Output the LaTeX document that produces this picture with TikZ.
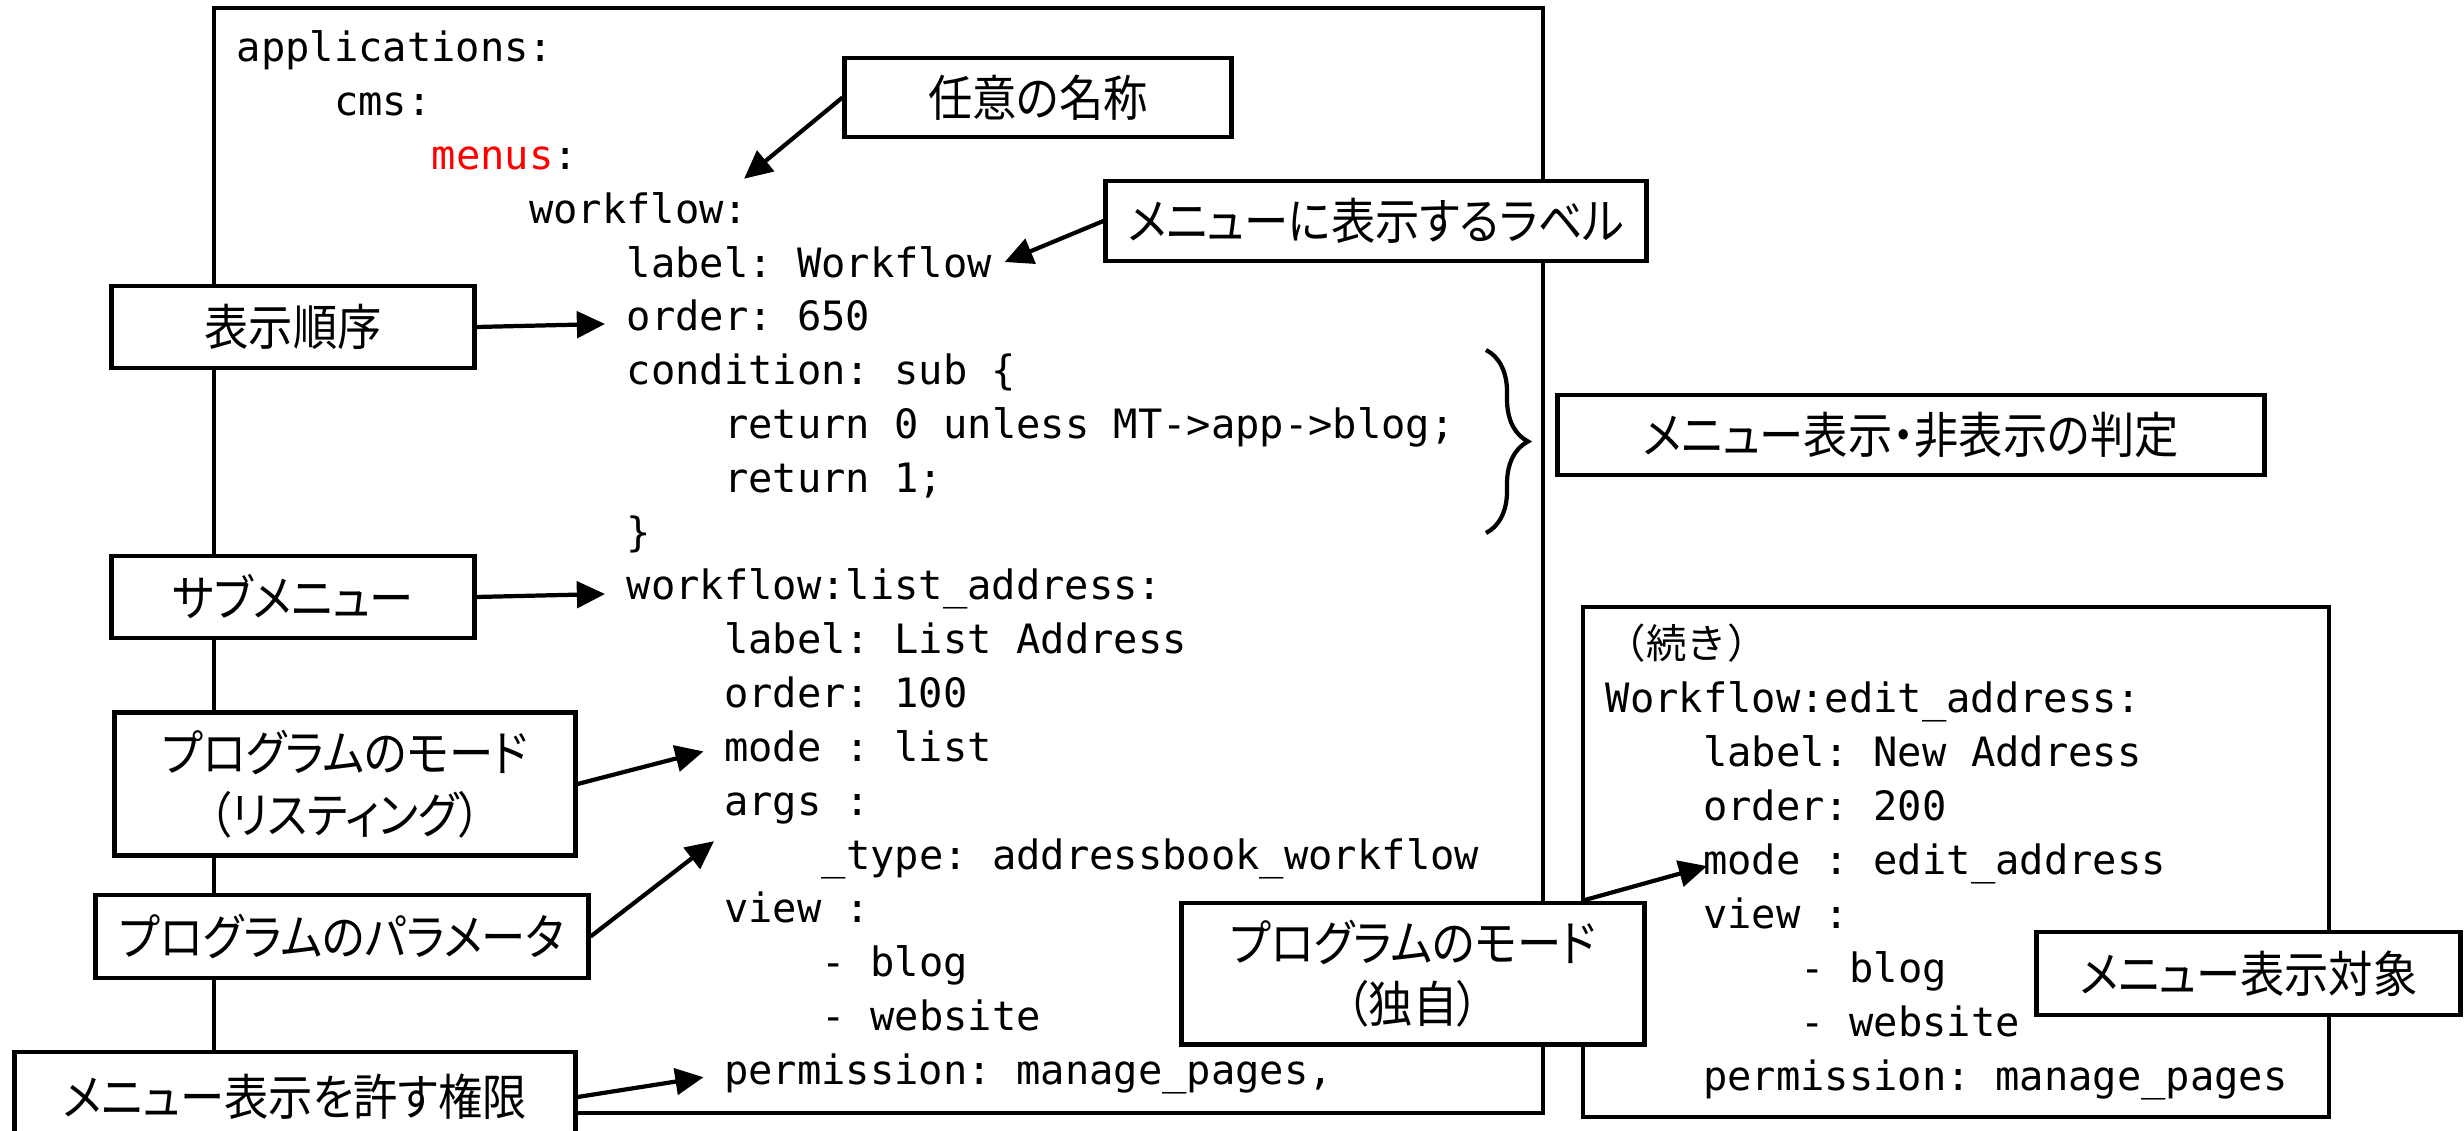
\documentclass[tikz,border=0pt]{standalone}
\usepackage{fontspec}
\setmonofont{DejaVu Sans Mono}
\newfontfamily\jpfont[CharacterWidth=AlternateProportional,FakeStretch=0.9]{Noto Sans CJK JP}
\newfontfamily\jpfullfont{Noto Sans CJK JP}
\usetikzlibrary{arrows.meta,decorations.pathreplacing}
\tikzset{
  code/.style={anchor=base west,inner sep=0pt,font=\ttfamily\fontsize{11.5pt}{14pt}\selectfont},
  note/.style={draw,line width=1.4pt,fill=white,inner sep=0pt,align=center,
    font=\jpfont\fontsize{14pt}{17.5pt}\selectfont},
  arr/.style={line width=1.2pt,-{Triangle[length=8pt,width=7.5pt]}},
}
\begin{document}
\begin{tikzpicture}[x=0.01cm,y=-0.01cm]
\useasboundingbox (0,0) rectangle (2464,1131);
\clip (0,0) rectangle (2464,1131);
%\draw[step=100,gray,very thin] (0,0) grid (2464,1131);
\draw[line width=1.05pt] (214,8) rectangle (1543,1113);
\draw[line width=1.05pt] (1583,607) rectangle (2329,1117);
\coordinate (rbx) at (1583,607);
% code, left box
\node[code] (l0) at (236,62) {applications:};
\node[code] (l1) at (333.5,115.8) {cms:};
\node[code] (l2) at (431,169.6) {\textcolor{red}{menus}:};
\node[code] (l3) at (528.5,223.4) {workflow:};
\node[code] (l4) at (626,277.2) {label: Workflow};
\node[code] (l5) at (626,331) {order: 650};
\node[code] (l6) at (626,384.8) {condition: sub \{};
\node[code] (l7) at (723.5,438.6) {return 0 unless MT->app->blog;};
\node[code] (l8) at (723.5,492.4) {return 1;};
\node[code] (l9) at (626,546.2) {\}};
\node[code] (l10) at (626,600) {workflow:list\_address:};
\node[code] (l11) at (723.5,653.8) {label: List Address};
\node[code] (l12) at (723.5,707.6) {order: 100};
\node[code] (l13) at (723.5,761.4) {mode : list};
\node[code] (l14) at (723.5,815.2) {args :};
\node[code] (l15) at (821,869) {\_type: addressbook\_workflow};
\node[code] (l16) at (723.5,922.8) {view :};
\node[code] (l17) at (821,976.6) {- blog};
\node[code] (l18) at (821,1030.4) {- website};
\node[code] (l19) at (723.5,1084.2) {permission: manage\_pages,};
% code, right box
\node[code,font=\jpfullfont\fontsize{11.5pt}{14pt}\selectfont] (r0) at (1605,659) {（続き）};
\node[code] (r1) at (1605,712.9) {Workflow:edit\_address:};
\node[code] (r2) at (1702.5,766.8) {label: New Address};
\node[code] (r3) at (1702.5,820.7) {order: 200};
\node[code] (r4) at (1702.5,874.6) {mode : edit\_address};
\node[code] (r5) at (1702.5,928.5) {view :};
\node[code] (r6) at (1800,982.4) {- blog};
\node[code] (r7) at (1800,1036.3) {- website};
\node[code] (r8) at (1702.5,1090.2) {permission: manage\_pages};
% brace
\draw[line width=1.2pt,decorate,decoration={brace,amplitude=0.42cm}] (1486,350) -- (1486,533);
% notes
\node[note,minimum width=3.86cm,minimum height=0.79cm] (b1) at (1038,97.5) {任意の名称};
\node[note,minimum width=5.40cm,minimum height=0.80cm] (b2) at (1376,221) {メニューに表示するラベル};
\node[note,minimum width=3.62cm,minimum height=0.82cm] (b3) at (293,327) {表示順序};
\node[note,minimum width=7.06cm,minimum height=0.80cm] (b4) at (1911,435) {メニュー表示・非表示の判定};
\node[note,minimum width=3.62cm,minimum height=0.82cm] (b5) at (293,597) {サブメニュー};
\node[note,minimum width=4.60cm,minimum height=1.42cm] (b6) at (345,784) {プログラムのモード\\（リスティング）};
\node[note,minimum width=4.92cm,minimum height=0.83cm] (b7) at (342,936.5) {プログラムのパラメータ};
\node[note,minimum width=5.60cm,minimum height=0.90cm] (b8) at (295,1097) {メニュー表示を許す権限};
\node[note,minimum width=4.62cm,minimum height=1.41cm] (b9) at (1413,973.5) {プログラムのモード\\（独自）};
\node[note,minimum width=4.23cm,minimum height=0.83cm] (b10) at (2248.5,973.5) {メニュー表示対象};
% arrows
\draw[arr] (b1.west) -- ([xshift=-0.5mm,yshift=1.3mm]l3.north east);
\draw[arr] (b2.west) -- ([xshift=1.2mm]l4.east);
\draw[arr] (b3.east) -- ([xshift=-2.1mm,yshift=0.7mm]l5.base west);
\draw[arr] (b5.east) -- ([xshift=-2.1mm,yshift=0.6mm]l10.base west);
\draw[arr] (b6.east) -- ([xshift=-2mm,yshift=1mm]l13.base west);
\draw[arr] (b7.east) -- ([xshift=-0.95mm,yshift=-2.6mm]l14.base west);
\draw[arr] (b8.east) -- ([xshift=-2mm,yshift=0.7mm]l19.base west);
\draw[arr] (b9.north -| rbx) -- ([xshift=0.45mm,yshift=0.85mm]r4.base west);
\end{tikzpicture}
\end{document}
